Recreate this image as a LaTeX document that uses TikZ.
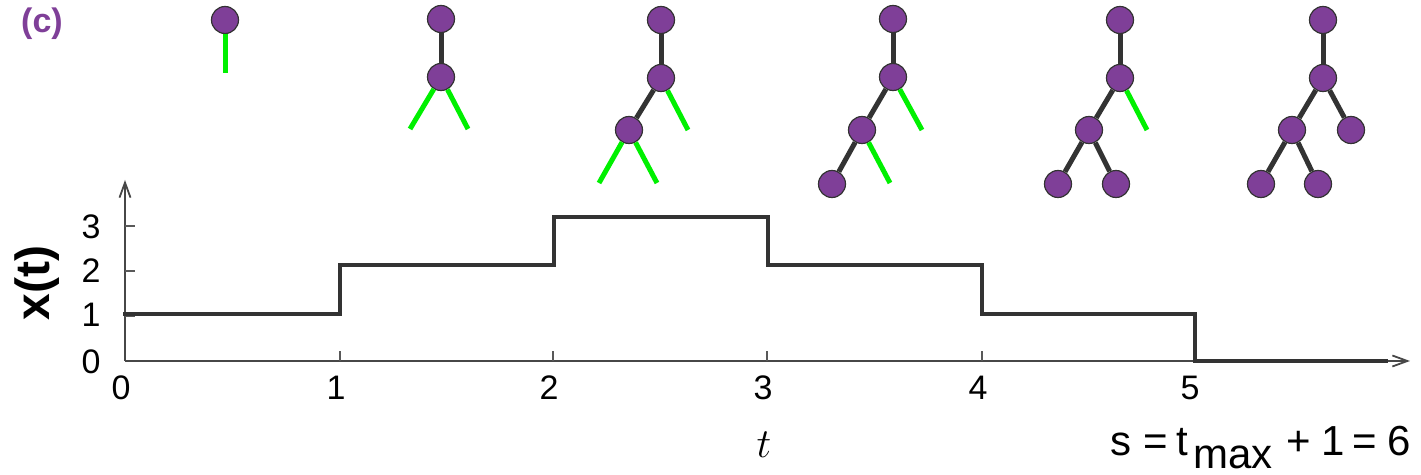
\documentclass[tikz,border=0pt]{standalone}
\usepackage{fontspec}
\setmainfont{Liberation Sans}
\usetikzlibrary{arrows.meta}
\definecolor{vertex}{HTML}{7F3F98}
\definecolor{leaf}{HTML}{00F000}
\definecolor{ink}{HTML}{333333}
\tikzset{vtx/.style={circle,fill=vertex,draw=ink,line width=0.6pt,minimum size=13.5pt,inner sep=0pt},edge/.style={ink,line width=2.5pt},stub/.style={leaf,line width=2.5pt},axis/.style={draw=black!72,line width=0.9pt,-{Straight Barb[length=7.5pt,width=5.5pt]}},tick/.style={draw=black!65,line width=0.7pt},curve/.style={ink,line width=2pt},lab/.style={font=\fontsize{17}{19}\selectfont,inner sep=0pt}}

\begin{document}
\begin{tikzpicture}[x=0.5pt,y=-0.5pt]
\useasboundingbox (0,0) rectangle (1421,475);
\node[font=\bfseries\fontsize{17}{19}\selectfont,text=vertex] (tag) at (42,24) {(c)};
% trees
\node[vtx] (a1) at (225,20) {};
\coordinate (a1s) at (225,73);
\draw[stub] (a1)--(a1s);
\node[vtx] (b1) at (441,19) {};\node[vtx] (b2) at (441,77) {};
\coordinate (b2l) at (410,129);\coordinate (b2r) at (468,129);
\draw[edge] (b1)--(b2);\draw[stub] (b2)--(b2l);\draw[stub] (b2)--(b2r);
\node[vtx] (c1) at (661,20) {};\node[vtx] (c2) at (661,78) {};\node[vtx] (c3) at (629,130) {};
\coordinate (c2r) at (688,130);\coordinate (c3l) at (599,183);\coordinate (c3r) at (657,183);
\draw[edge] (c1)--(c2);\draw[edge] (c2)--(c3);\draw[stub] (c2)--(c2r);\draw[stub] (c3)--(c3l);\draw[stub] (c3)--(c3r);
\node[vtx] (d1) at (893,19) {};\node[vtx] (d2) at (893,77) {};\node[vtx] (d3) at (862,130) {};\node[vtx] (d4) at (832,184) {};
\coordinate (d2r) at (922,130);\coordinate (d3r) at (890,183);
\draw[edge] (d1)--(d2);\draw[edge] (d2)--(d3);\draw[edge] (d3)--(d4);\draw[stub] (d2)--(d2r);\draw[stub] (d3)--(d3r);
\node[vtx] (e1) at (1120,20) {};\node[vtx] (e2) at (1120,78) {};\node[vtx] (e3) at (1089,130) {};\node[vtx] (e4) at (1058,184) {};\node[vtx] (e5) at (1116,184) {};
\coordinate (e2r) at (1147,130);
\draw[edge] (e1)--(e2);\draw[edge] (e2)--(e3);\draw[edge] (e3)--(e4);\draw[edge] (e3)--(e5);\draw[stub] (e2)--(e2r);
\node[vtx] (f1) at (1323,20) {};\node[vtx] (f2) at (1323,78) {};\node[vtx] (f3) at (1292,130) {};\node[vtx] (f4) at (1351,130) {};\node[vtx] (f5) at (1261,184) {};\node[vtx] (f6) at (1318,184) {};
\draw[edge] (f1)--(f2);\draw[edge] (f2)--(f3);\draw[edge] (f2)--(f4);\draw[edge] (f3)--(f5);\draw[edge] (f3)--(f6);
% plot
\coordinate (o) at (125,361);\coordinate (xend) at (1410,361);\coordinate (yend) at (125,180);
\draw[axis] (o)--(xend);\draw[axis] (o)--(yend);
\draw[tick] (340,361)--++(0,-10) (553,361)--++(0,-10) (767,361)--++(0,-10) (982,361)--++(0,-10) (1195,361)--++(0,-10);
\draw[tick] (125,226)--++(10,0) (125,271)--++(10,0) (125,316)--++(10,0);
\draw[curve] (123,314)--(340,314)--(340,265.5)--(553.5,265.5)--(553.5,217)--(767.5,217)--(767.5,265.5)--(982,265.5)--(982,314)--(1195,314)--(1195,361)--(1388,361);
\node[lab] (x0) at (121,388) {0};\node[lab] (x1) at (336,388) {1};\node[lab] (x2) at (549,388) {2};
\node[lab] (x3) at (763,388) {3};\node[lab] (x4) at (978,388) {4};\node[lab] (x5) at (1190,388) {5};
\node[lab] (y0) at (91,362) {0};\node[lab] (y1) at (91,315) {1};\node[lab] (y2) at (91,271) {2};\node[lab] (y3) at (91,227) {3};
\node[font=\bfseries\fontsize{24}{26}\selectfont,rotate=90] (ylab) at (37,283) {x(t)};
\node[font=\fontsize{22}{24}\selectfont,anchor=base,inner sep=0pt] (tlab) at (764,458) {$t$};
\node[font=\fontsize{21}{23}\selectfont,anchor=base west,inner sep=0pt] (smax) at (1110,456) {s\hspace{6pt}=\hspace{4.5pt}t\hspace{2.5pt}\raisebox{-6.5pt}{max}\hspace{7pt}+\hspace{5pt}1\hspace{4pt}=\hspace{5pt}6};
\end{tikzpicture}
\end{document}
